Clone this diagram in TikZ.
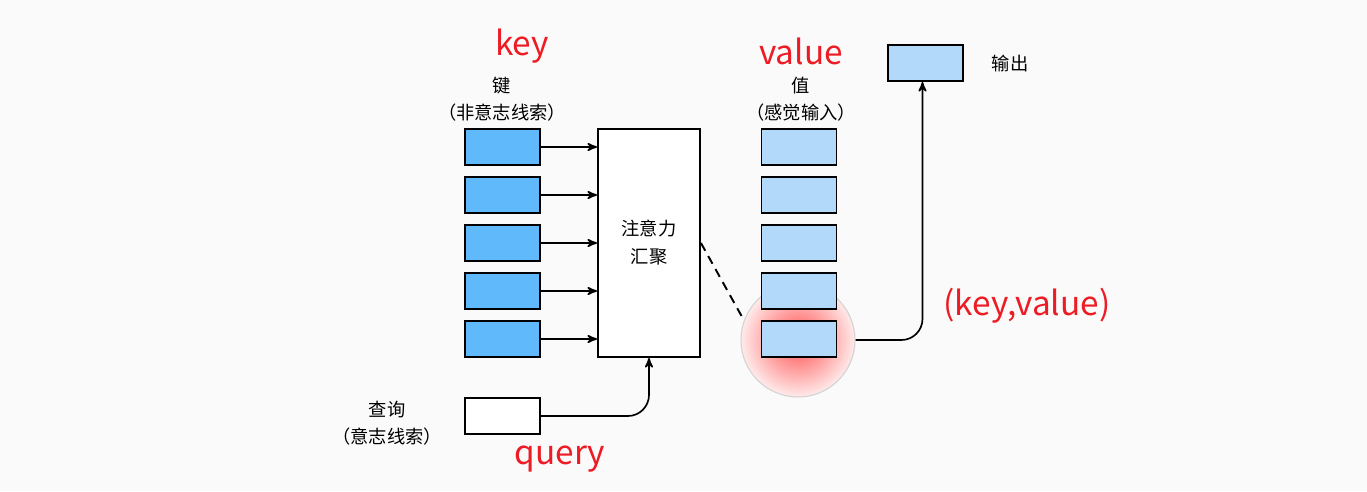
\documentclass[tikz,border=0pt]{standalone}
\usepackage{fontspec}
\setmainfont{Noto Sans CJK SC}
\usetikzlibrary{arrows, calc}
\definecolor{keyblue}{RGB}{95,185,250}
\definecolor{valueblue}{RGB}{179,217,250}
\definecolor{markred}{RGB}{237,28,36}
\definecolor{pagegray}{RGB}{250,250,250}
\tikzset{
    my-key-box/.style={
        draw, line width=1.1pt, fill=keyblue, minimum width=1.5cm, minimum height=0.72cm, inner sep=0pt
    },
    my-value-box/.style={
        my-key-box, fill=valueblue
    },
    my-query-box/.style={
        my-key-box, fill=white
    },
    my-pool-box/.style={
        draw, line width=1.1pt, fill=white, minimum width=2.04cm, minimum height=4.56cm,
        align=center, font=\fontsize{10.4}{16}\selectfont
    },
    my-cn-label/.style={
        align=center, font=\fontsize{10.4}{15.5}\selectfont
    },
    my-red-label/.style={
        text=markred, font=\fontsize{19}{22}\selectfont
    },
    my-wire/.style={
        line width=0.95pt, -stealth'
    },
}

\begin{document}
\begin{tikzpicture}[x=0.02cm, y=-0.02cm]

        % PAGE
        \fill[pagegray] (0,0) rectangle (1367,491);
        \useasboundingbox (0,0) rectangle (1367,491);

        % GLOW BEHIND THE CHOSEN PAIR
        \node[circle, draw=gray!35, line width=0.6pt, minimum size=2.28cm,
              inner color=red!70, outer color=red!8] (GLOW) at (798,340) {};

        % KEYS
        \node[my-red-label] (KEYTXT) at (522,46)  {key};
        \node[my-cn-label]  (KEYCN)  at (502,99)  {键\\（非意志线索）};
        \node[my-key-box]   (KEY1)   at (502.5,147) {};
        \node[my-key-box]   (KEY2)   at (502.5,195) {};
        \node[my-key-box]   (KEY3)   at (502.5,243) {};
        \node[my-key-box]   (KEY4)   at (502.5,291) {};
        \node[my-key-box]   (KEY5)   at (502.5,339) {};

        % ATTENTION POOLING
        \node[my-pool-box]  (POOL)   at (649,243) {注意力\\汇聚};

        % QUERY
        \node[my-cn-label]  (QUERYCN)  at (387,423) {查询\\（意志线索）};
        \node[my-query-box] (QUERY)    at (502.5,416) {};
        \node[my-red-label] (QUERYTXT) at (560,459) {query};

        % VALUES
        \node[my-red-label] (VALTXT) at (801,51)  {value};
        \node[my-cn-label]  (VALCN)  at (801,99)  {值\\（感觉输入）};
        \node[my-value-box] (VAL1)   at (799,147) {};
        \node[my-value-box] (VAL2)   at (799,195) {};
        \node[my-value-box] (VAL3)   at (799,243) {};
        \node[my-value-box] (VAL4)   at (799,291) {};
        \node[my-value-box] (VAL5)   at (799,339) {};
        \node[my-red-label] (PAIRTXT) at (1027,306) {(key,value)};

        % OUTPUT
        \node[my-value-box] (OUT)    at (925.5,63) {};
        \node[my-cn-label]  (OUTCN)  at (1010,64)  {输出};

        % KEY CONNECTIONS
        \draw[my-wire] (KEY1.east) -- (KEY1.east -| POOL.west);
        \draw[my-wire] (KEY2.east) -- (KEY2.east -| POOL.west);
        \draw[my-wire] (KEY3.east) -- (KEY3.east -| POOL.west);
        \draw[my-wire] (KEY4.east) -- (KEY4.east -| POOL.west);
        \draw[my-wire] (KEY5.east) -- (KEY5.east -| POOL.west);

        % QUERY AND OUTPUT CONNECTIONS
        \draw[my-wire, rounded corners=12] (QUERY.east) -| (POOL.south);
        \draw[my-wire, rounded corners=12] (GLOW.east) -| ($(OUT.south) + (-3,0)$);

        % POOLING TO CHOSEN VALUE
        \draw[line width=1.1pt, dashed, dash pattern=on 5pt off 3.5pt] (POOL.east) -- (GLOW.160);

    \end{tikzpicture}
\end{document}
